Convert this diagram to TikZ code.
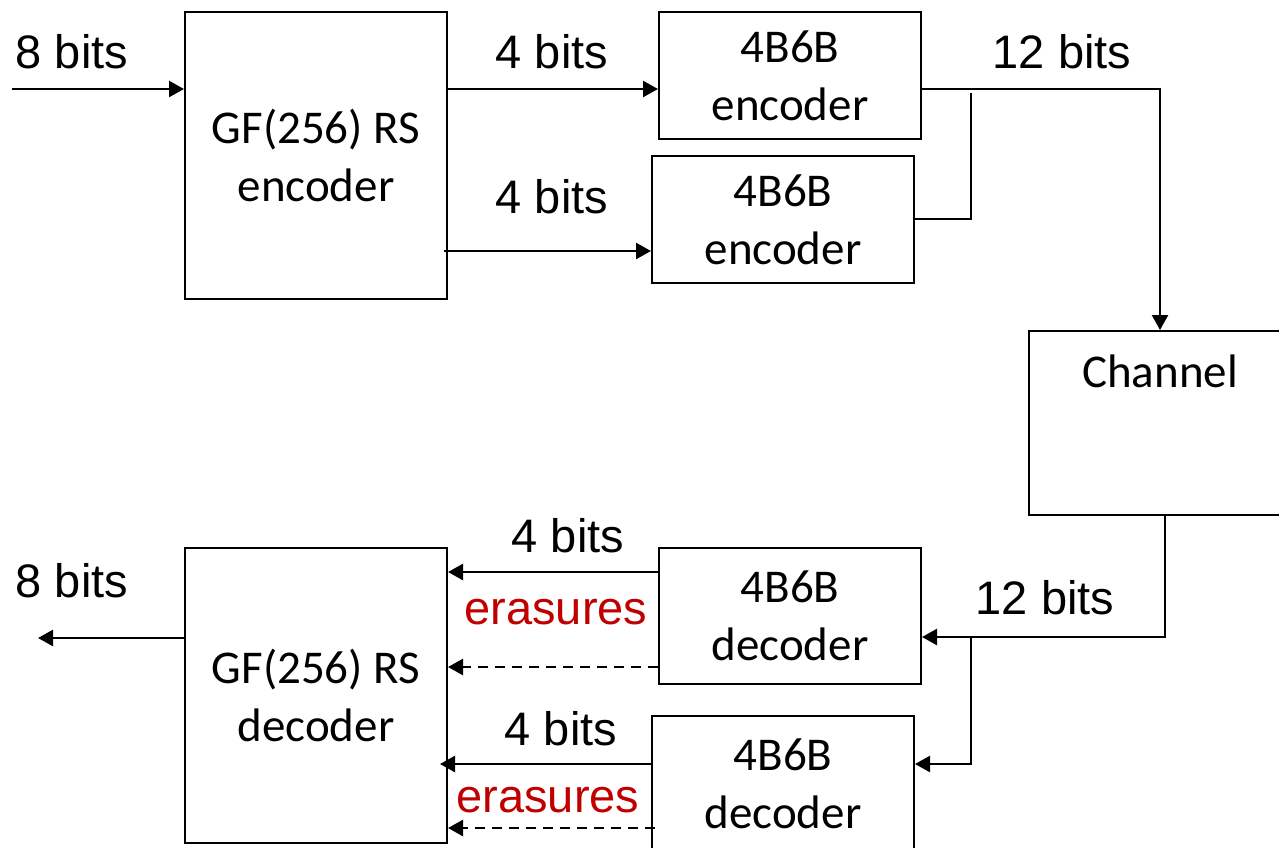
\documentclass[tikz,border=0pt]{standalone}
\usepackage{fontspec}
\setmainfont{Liberation Sans}
\newfontfamily\boxfont{Carlito}
\usetikzlibrary{arrows.meta}
\definecolor{erared}{RGB}{192,0,0}
\begin{document}
\begin{tikzpicture}[x=0.5pt,y=-0.5pt,
  blk/.style={draw,line width=1pt,minimum width=131pt,inner sep=0pt,align=center,
    font=\boxfont\fontsize{23.5}{29}\selectfont},
  lbl/.style={inner sep=0pt,font=\fontsize{23.5}{28}\selectfont},
  redlbl/.style={lbl,text=erared},
  arr/.style={line width=1.2pt,-{Triangle[length=7.5pt,width=8pt]}},
  ln/.style={line width=1.2pt},
  dsh/.style={arr,dash pattern=on 5pt off 3.5pt}]
\useasboundingbox (0,0) rectangle (1279,847);
% blocks
\node[blk,minimum height=143.5pt] (rsenc) at (316,155.5) {GF(256) RS\\encoder};
\node[blk,minimum height=63.5pt] (enc1) at (790,75.5) {4B6B\\encoder};
\node[blk,minimum height=63.5pt] (enc2) at (783,219.5) {4B6B\\encoder};
\node[blk,minimum height=92pt,
  label={[anchor=north,inner sep=0pt,yshift=-12pt,font=\boxfont\fontsize{23.5}{28.5}\selectfont]north:Channel}] (chan) at (1160,423) {};
\node[blk,minimum height=68pt] (dec1) at (790,616) {4B6B\\decoder};
\node[blk,minimum height=68pt] (dec2) at (783,784) {4B6B\\decoder};
\node[blk,minimum height=147.5pt] (rsdec) at (316,695.5) {GF(256) RS\\decoder};
% free ends
\coordinate (in) at (12,89);
\coordinate (out) at (38,638);
\coordinate (s2) at (444,251);
\coordinate (c1) at (1160,89);
\coordinate (j1) at (971,219);
\coordinate (j1e) at (971,93);
\coordinate (c2) at (1165,637);
\coordinate (j2) at (971,637);
\coordinate (j2b) at (971,764);
\coordinate (d2e) at (440,764);
\coordinate (d2s) at (655,828);
% connectors (encoder side)
\draw[arr] (in) -- (in -| rsenc.west);
\draw[arr] (rsenc.east |- in) -- (enc1.west |- in);
\draw[arr] (s2) -- (s2 -| enc2.west);
\draw[arr] (enc1.east |- c1) -- (c1) -- (chan.north);
\draw[ln] (enc2.east |- j1) -- (j1) -- (j1e);
% decoder side
\draw[arr] (chan.south -| c2) -- (c2) -- (c2 -| dec1.east);
\draw[arr] (j2) -- (j2b) -- (j2b -| dec2.east);
\draw[arr] (dec1.west |- 0,572) -- (rsdec.east |- 0,572);
\draw[dsh] (dec1.west |- 0,667) -- (rsdec.east |- 0,667);
\draw[arr] (dec2.west |- d2e) -- (d2e);
\draw[dsh] (d2s) -- (d2s -| rsdec.east);
\draw[arr] (rsdec.west |- out) -- (out);
% labels
\node[lbl] (l1) at (72,52) {8 bits};
\node[lbl] (l2) at (552,52) {4 bits};
\node[lbl] (l3) at (552,197) {4 bits};
\node[lbl] (l4) at (1062,52) {12 bits};
\node[lbl] (l5) at (1045,598) {12 bits};
\node[lbl] (l6) at (568,536) {4 bits};
\node[redlbl] (e1) at (556,612) {erasures};
\node[lbl] (l7) at (561,729) {4 bits};
\node[redlbl] (e2) at (548,800) {erasures};
\node[lbl] (l8) at (72,581) {8 bits};
\end{tikzpicture}
\end{document}
